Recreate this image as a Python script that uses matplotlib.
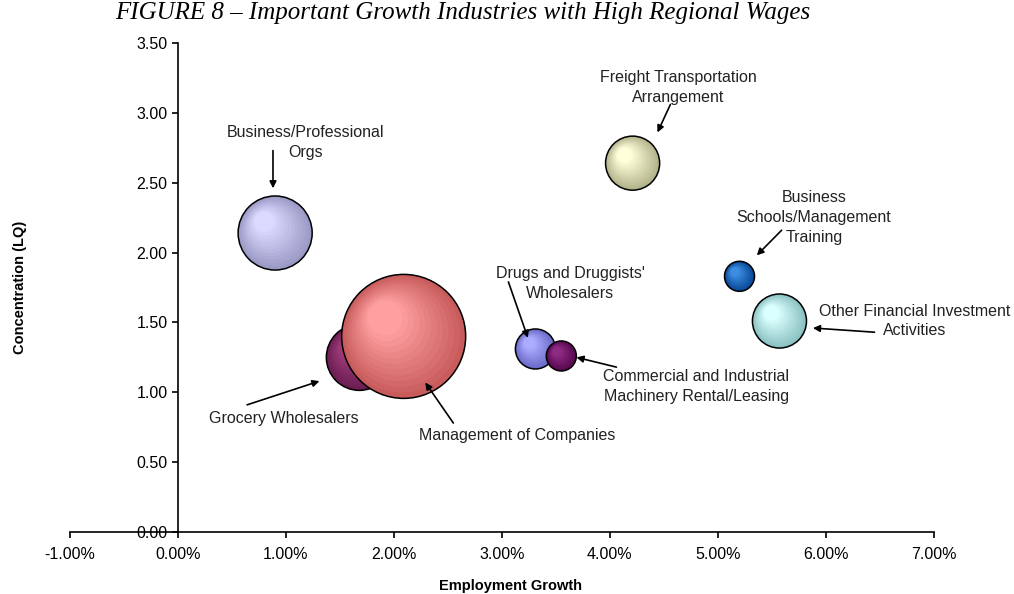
import numpy as np
import matplotlib
matplotlib.use("Agg")
import matplotlib.pyplot as plt
from matplotlib.colors import to_rgb
from matplotlib.transforms import ScaledTranslation

plt.rcParams['font.family'] = ['Liberation Sans', 'DejaVu Sans']

# industries (drawing order: back to front)
names = ["Business/Professional Orgs", "Freight Transportation Arrangement",
         "Business Schools/Management Training", "Other Financial Investment Activities",
         "Grocery Wholesalers", "Management of Companies",
         "Drugs and Druggists' Wholesalers", "Commercial and Industrial Machinery Rental/Leasing"]
growth = [0.90, 4.21, 5.20, 5.57, 1.68, 2.09, 3.31, 3.55]      # employment growth, %
lq = [2.14, 2.64, 1.83, 1.51, 1.25, 1.40, 1.31, 1.26]           # concentration (LQ)
employment = [1370, 730, 225, 730, 1090, 3840, 400, 225]        # bubble size

edge_cols = ["#9a9ac6", "#b4b48c", "#0a4896", "#8cc2c2", "#6c1e52", "#c85c5c", "#6a6ac8", "#58084e"]
high_cols = ["#dadaff", "#ffffdc", "#3c8ce2", "#dcffff", "#a03c7c", "#ffa0a0", "#acacff", "#8e2a84"]

# callout labels: text, text centre (data), arrow tail, arrow tip
labels = ["Business/Professional\nOrgs", "Freight Transportation\nArrangement",
          "Business\nSchools/Management\nTraining", "Other Financial Investment\nActivities",
          "Grocery Wholesalers", "Management of Companies",
          "Drugs and Druggists'\nWholesalers", "Commercial and Industrial\nMachinery Rental/Leasing"]
label_xy = [(1.18, 2.79), (4.63, 3.18), (5.89, 2.25), (6.82, 1.51),
            (0.98, 0.81), (3.14, 0.69), (3.63, 1.78), (4.80, 1.04)]
arrow_tail = [(0.88, 2.73), (4.56, 3.06), (5.59, 2.16), (6.45, 1.43),
              (0.64, 0.91), (2.55, 0.78), (3.06, 1.79), (4.06, 1.18)]
arrow_tip = [(0.88, 2.46), (4.44, 2.86), (5.36, 1.98), (5.88, 1.46),
             (1.31, 1.08), (2.29, 1.07), (3.24, 1.39), (3.69, 1.25)]

xticks = [-1, 0, 1, 2, 3, 4, 5, 6, 7]
yticks = [0, 0.5, 1.0, 1.5, 2.0, 2.5, 3.0, 3.5]

fig = plt.figure(figsize=(10.14, 5.94), dpi=100)
ax = fig.add_axes([0.069, 0.1044, 0.852, 0.8232])
ax.set_xlim(-1, 7)
ax.set_ylim(0, 3.5)

max_r_px = 62.0
for i in range(len(names)):
    r_px = max_r_px * np.sqrt(employment[i] / max(employment))
    r_pt = r_px * 72 / 100
    c0 = np.array(to_rgb(edge_cols[i]))
    c1 = np.array(to_rgb(high_cols[i]))
    n = 12
    for k in range(n):
        t = k / (n - 1)
        rr = r_pt * (1 - 0.72 * t)
        shift = (r_pt - rr) * 0.55
        tr = ax.transData + ScaledTranslation(-shift * 0.75 / 72, shift * 0.75 / 72, fig.dpi_scale_trans)
        col = c0 + (c1 - c0) * t
        ax.scatter([growth[i]], [lq[i]], s=(2 * rr) ** 2, color=col, edgecolors='none',
                   transform=tr, zorder=2 + i, clip_on=False)
    ax.scatter([growth[i]], [lq[i]], s=(2 * r_pt) ** 2, facecolors='none',
               edgecolors='black', linewidths=1.1, zorder=2 + i, clip_on=False)

for i in range(len(labels)):
    ax.text(label_xy[i][0], label_xy[i][1], labels[i], ha='center', va='center',
            multialignment='center', fontsize=11.5, color='#222222', zorder=20,
            linespacing=1.4)
    ax.annotate('', xy=arrow_tip[i], xytext=arrow_tail[i],
                arrowprops=dict(arrowstyle='-|>', color='black', lw=1.2,
                                mutation_scale=10, shrinkA=0, shrinkB=0), zorder=20)

ax.spines['left'].set_position(('data', 0))
ax.spines['bottom'].set_position(('data', 0))
ax.spines['top'].set_visible(False)
ax.spines['right'].set_visible(False)
for s in ['left', 'bottom']:
    ax.spines[s].set_linewidth(1.2)
ax.set_xticks(xticks)
ax.set_xticklabels([f"{v:.2f}%" for v in xticks])
ax.set_yticks(yticks)
ax.set_yticklabels([f"{v:.2f}" for v in yticks])
ax.tick_params(direction='out', length=4, width=1.2, labelsize=11.5, colors='black')
ax.tick_params(axis='x', pad=7)

ax.set_xlabel("Employment Growth", fontsize=10.5, fontweight='bold')
ax.xaxis.set_label_coords(0.51, -0.096)
ax.set_ylabel("Concentration (LQ)", fontsize=10.5, fontweight='bold')
ax.yaxis.set_label_coords(-0.05, 0.5)

fig.text(0.456, 0.978, "FIGURE 8 \u2013 Important Growth Industries with High Regional Wages",
         ha='center', va='center', fontsize=18, style='italic', family='Liberation Serif')

fig.savefig("out.png", dpi=100)
